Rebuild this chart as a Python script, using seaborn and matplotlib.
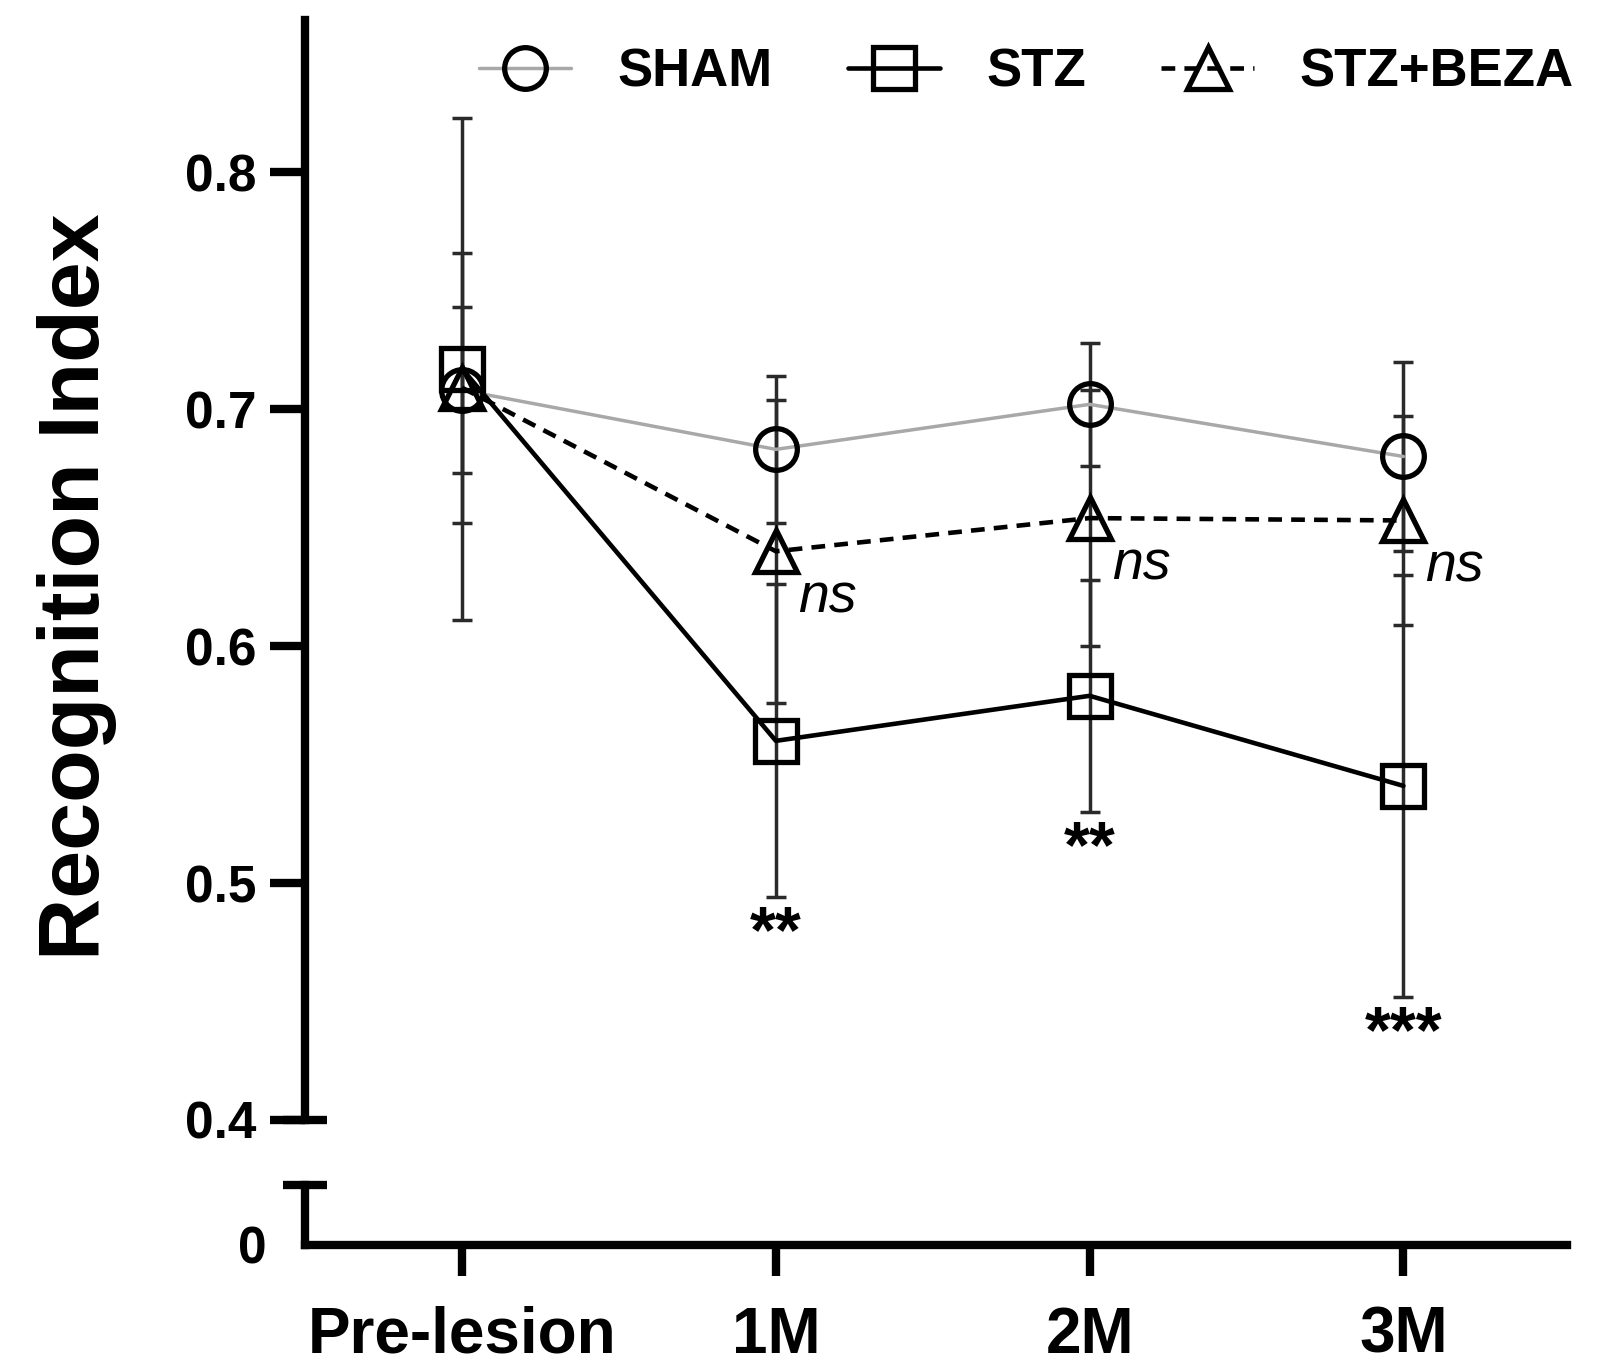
import numpy as np
import pandas as pd
import matplotlib.pyplot as plt
import seaborn as sns

# -----------------------------
# data (mean +/- SEM)
# -----------------------------
timepoints = ["Pre-lesion", "1M", "2M", "3M"]
sham_mean = [0.708, 0.683, 0.702, 0.680]
sham_sem = [0.035, 0.031, 0.026, 0.040]
stz_mean = [0.717, 0.560, 0.579, 0.541]
stz_sem = [0.106, 0.066, 0.049, 0.089]
beza_mean = [0.709, 0.640, 0.654, 0.653]
beza_sem = [0.057, 0.064, 0.054, 0.044]
stz_stars = ["", "**", "**", "***"]
beza_ns = ["", "ns", "ns", "ns"]

df = pd.DataFrame({
    "time": list(range(len(timepoints))) * 3,
    "value": sham_mean + stz_mean + beza_mean,
    "sem": sham_sem + stz_sem + beza_sem,
    "group": ["SHAM"] * 4 + ["STZ"] * 4 + ["STZ+BEZA"] * 4,
})

sns.set_theme(style="ticks")
plt.rcParams["font.family"] = ["Liberation Sans", "DejaVu Sans"]
plt.rcParams["font.weight"] = "bold"
for key in ["axes.edgecolor", "text.color", "xtick.color", "ytick.color",
            "axes.labelcolor"]:
    plt.rcParams[key] = "black"

fig = plt.figure(figsize=(16.15, 13.65), dpi=100)
ax = fig.add_axes([0.189, 0.1795, 0.781, 0.8055])
axb = fig.add_axes([0.189, 0.088, 0.781, 0.044], sharex=ax)

styles = {
    "SHAM": dict(color="#a8a8a8", ls="-", lw=2.5, marker="o"),
    "STZ": dict(color="black", ls="-", lw=3.3, marker="s"),
    "STZ+BEZA": dict(color="black", ls=(0, (3, 2)), lw=3.3, marker="^"),
}

for name, st in styles.items():
    sub = df[df["group"] == name]
    ax.errorbar(sub["time"], sub["value"], yerr=sub["sem"], fmt="none",
                ecolor="#2a2a2a", elinewidth=2.5, capsize=7, capthick=2.5,
                zorder=2)
    sns.lineplot(data=sub, x="time", y="value", ax=ax, color=st["color"],
                 linestyle=st["ls"], linewidth=st["lw"], marker=st["marker"],
                 markersize=30, markerfacecolor="none", markeredgecolor="black",
                 markeredgewidth=3.8, label=name, zorder=3, errorbar=None)

# significance labels
for i in range(len(timepoints)):
    if stz_stars[i]:
        ax.text(i, stz_mean[i] - stz_sem[i] - 0.016, stz_stars[i],
                ha="center", va="center", fontsize=48, fontweight="bold")
    if beza_ns[i]:
        ax.text(i + 0.07, beza_mean[i] - 0.02, beza_ns[i], ha="left",
                va="center", fontsize=40, fontstyle="italic", fontweight="normal")

# upper axis
ax.set_xlim(-0.5, 3.52)
ax.set_ylim(0.4, 0.864)
ax.set_yticks([0.4, 0.5, 0.6, 0.7, 0.8])
ax.set_yticklabels(["0.4", "0.5", "0.6", "0.7", "0.8"])
for s in ["top", "right", "bottom"]:
    ax.spines[s].set_visible(False)
ax.spines["left"].set_linewidth(6)
ax.tick_params(axis="y", length=25, width=6, pad=10, labelsize=37)
ax.tick_params(axis="x", bottom=False, labelbottom=False)
ax.set_xlabel("")
ax.set_ylabel("Recognition Index", fontsize=62, fontweight="bold")
ax.yaxis.set_label_coords(-0.149, 0.485)
ax.plot([-0.5], [0.4], marker="_", markersize=31, mew=6, color="black",
        clip_on=False, zorder=5)

# lower axis (broken part)
axb.set_ylim(0, 1)
axb.set_yticks([0])
axb.set_yticklabels(["0"])
for s in ["top", "right"]:
    axb.spines[s].set_visible(False)
axb.spines["left"].set_linewidth(6)
axb.spines["bottom"].set_linewidth(6)
axb.tick_params(axis="y", length=0, pad=28, labelsize=37)
axb.tick_params(axis="x", length=22, width=6, pad=22, labelsize=46)
axb.set_xticks(range(len(timepoints)))
axb.set_xticklabels(timepoints, fontweight="bold")
axb.set_xlabel("")
axb.set_ylabel("")
axb.plot([-0.5], [1], marker="_", markersize=31, mew=6, color="black",
         clip_on=False, zorder=5)

leg = ax.legend(loc="center left", bbox_to_anchor=(0.2966, 0.947),
                bbox_transform=fig.transFigure, ncol=3, frameon=False,
                fontsize=38, handlelength=1.75, handletextpad=0.87,
                columnspacing=1.43, borderpad=0, borderaxespad=0)
for t in leg.get_texts():
    t.set_fontweight("bold")

plt.savefig("out.png", dpi=100)
